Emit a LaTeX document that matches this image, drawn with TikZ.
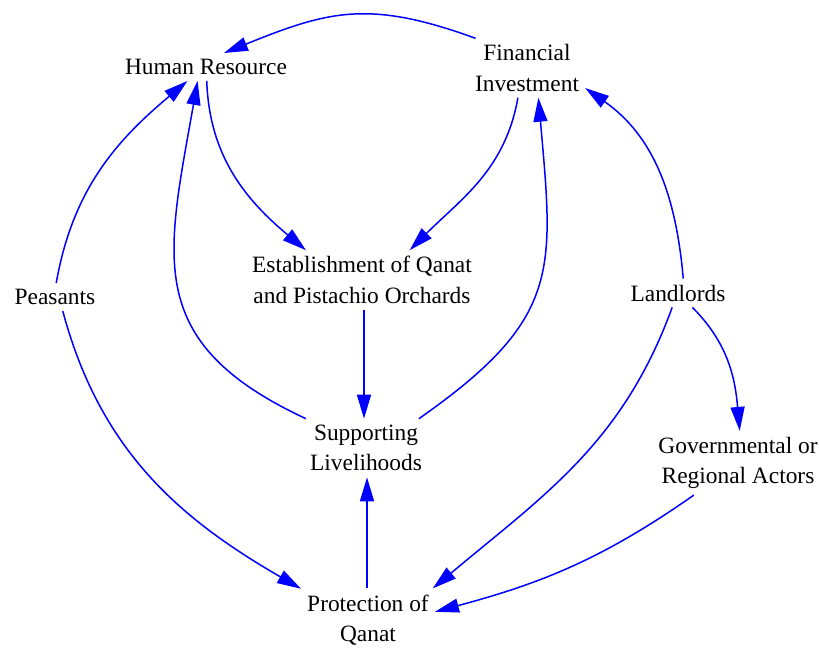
\documentclass[tikz,border=0pt]{standalone}
\usepackage{fontspec}
\setmainfont{Liberation Serif}
\usepackage{tikz}
\usetikzlibrary{arrows.meta}
\usetikzlibrary{positioning}
\definecolor{linkblue}{RGB}{0,0,255}
\newcommand{\factorfont}{\fontsize{23.4}{30.5}\selectfont}
\tikzstyle{factor} = [align = center, inner sep = 6pt, font = \factorfont]
\tikzstyle{link} = [draw = linkblue, line width = 1.5pt, -{Triangle[length = 24pt, width = 14pt]}]
\tikzstyle{loop picture} = [x = 1pt, y = 1pt]

\begin{document}
\begin{tikzpicture}[loop picture]
            \useasboundingbox (0, 0) rectangle (819, -648);
            % factors
            \node [factor] (human) at (206, -67) {Human Resource};
            \node [factor] (invest) at (527, -68) {Financial\\Investment};
            \node [factor] (orchard) at (362, -280) {Establishment of Qanat\\and Pistachio Orchards};
            \node [factor] (peasant) at (55, -297) {Peasants};
            \node [factor] (landlord) at (678, -293) {Landlords};
            \node [factor] (liveli) at (366, -448) {Supporting\\Livelihoods};
            \node [factor] (actor) at (738, -463) {Governmental or\\Regional Actors};
            \node [factor] (protect) at (368, -620) {Protection of\\Qanat};
            % links
            \draw [link] (invest.150) to [out = 160, in = 22, looseness = 1.15] (human.38);
            \draw [link] (human.-87) to [out = -88, in = 140] (orchard.152);
            \draw [link] (invest.-107) to [out = -100, in = 45] (orchard.32);
            \draw [link] (orchard.south -| 364, 0) -- (liveli.north -| 364, 0);
            \draw [link] (liveli.154) to [out = 155, in = -100, looseness = 1.3] (human.-121);
            \draw [link] (liveli.29) to [out = 35, in = -85, looseness = 1.3] (invest.-69);
            \draw [link] (peasant.85) to [out = 80, in = -140] (human.-143);
            \draw [link] (peasant.-61) to [out = -75, in = 150] (protect.155);
            \draw [link] (landlord.70) to [out = 95, in = -35] (invest.-19);
            \draw [link] (landlord.-112) to [out = -110, in = 40] (protect.26);
            \draw [link] (landlord.-45) to [out = -45, in = 95] (actor.87);
            \draw [link] (actor.-144) to [out = -145, in = 15] (protect.7);
            \draw [link] (protect.north -| 367, 0) -- (liveli.south -| 367, 0);
        \end{tikzpicture}
\end{document}
